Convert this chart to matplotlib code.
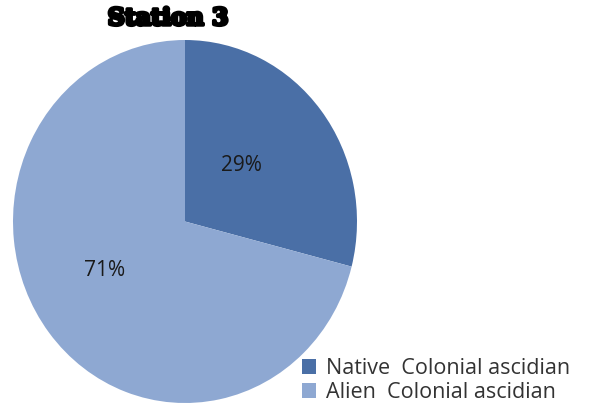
import matplotlib.pyplot as plt
import matplotlib.patheffects as pe

labels = ["Native  Colonial ascidian", "Alien  Colonial ascidian"]
shares = [29, 71]
colors = ["#4A6FA6", "#8EA8D2"]

fig = plt.figure(figsize=(5.94, 4.08), dpi=100)
# pie sits in a slightly tall box so it comes out a bit oval
ax = fig.add_axes([13 / 594, 5 / 408, 344 / 594, 363 / 408])

wedges, texts = ax.pie(shares, colors=colors, startangle=90, counterclock=False,
                       radius=1, wedgeprops=dict(linewidth=0))
ax.set_aspect("auto")
ax.set_xlim(-1, 1)
ax.set_ylim(-1, 1)

# percentage labels inside the wedges
pos = [(0.33, 0.31), (-0.47, -0.27)]
for (x, y), v in zip(pos, shares):
    ax.text(x, y, f"{v}%", ha="center", va="center", fontsize=15,
            family="Open Sans", color="#1a1a1a")

fig.text(168 / 594, 1 - 18 / 408, "Station 3", ha="center", va="center",
         fontsize=17, family="DejaVu Serif", weight="bold", color="black",
         path_effects=[pe.withStroke(linewidth=2.5, foreground="black")])

fig.legend(wedges, labels, loc="upper left", bbox_to_anchor=(302 / 594, 1 - 358 / 408),
           frameon=False, borderaxespad=0, borderpad=0, handlelength=0.65,
           handleheight=0.65, handletextpad=0.45, labelspacing=0.15,
           prop=dict(family="Open Sans", size=15.5), labelcolor="#333333")

fig.savefig("out.png", dpi=100, facecolor="white")
